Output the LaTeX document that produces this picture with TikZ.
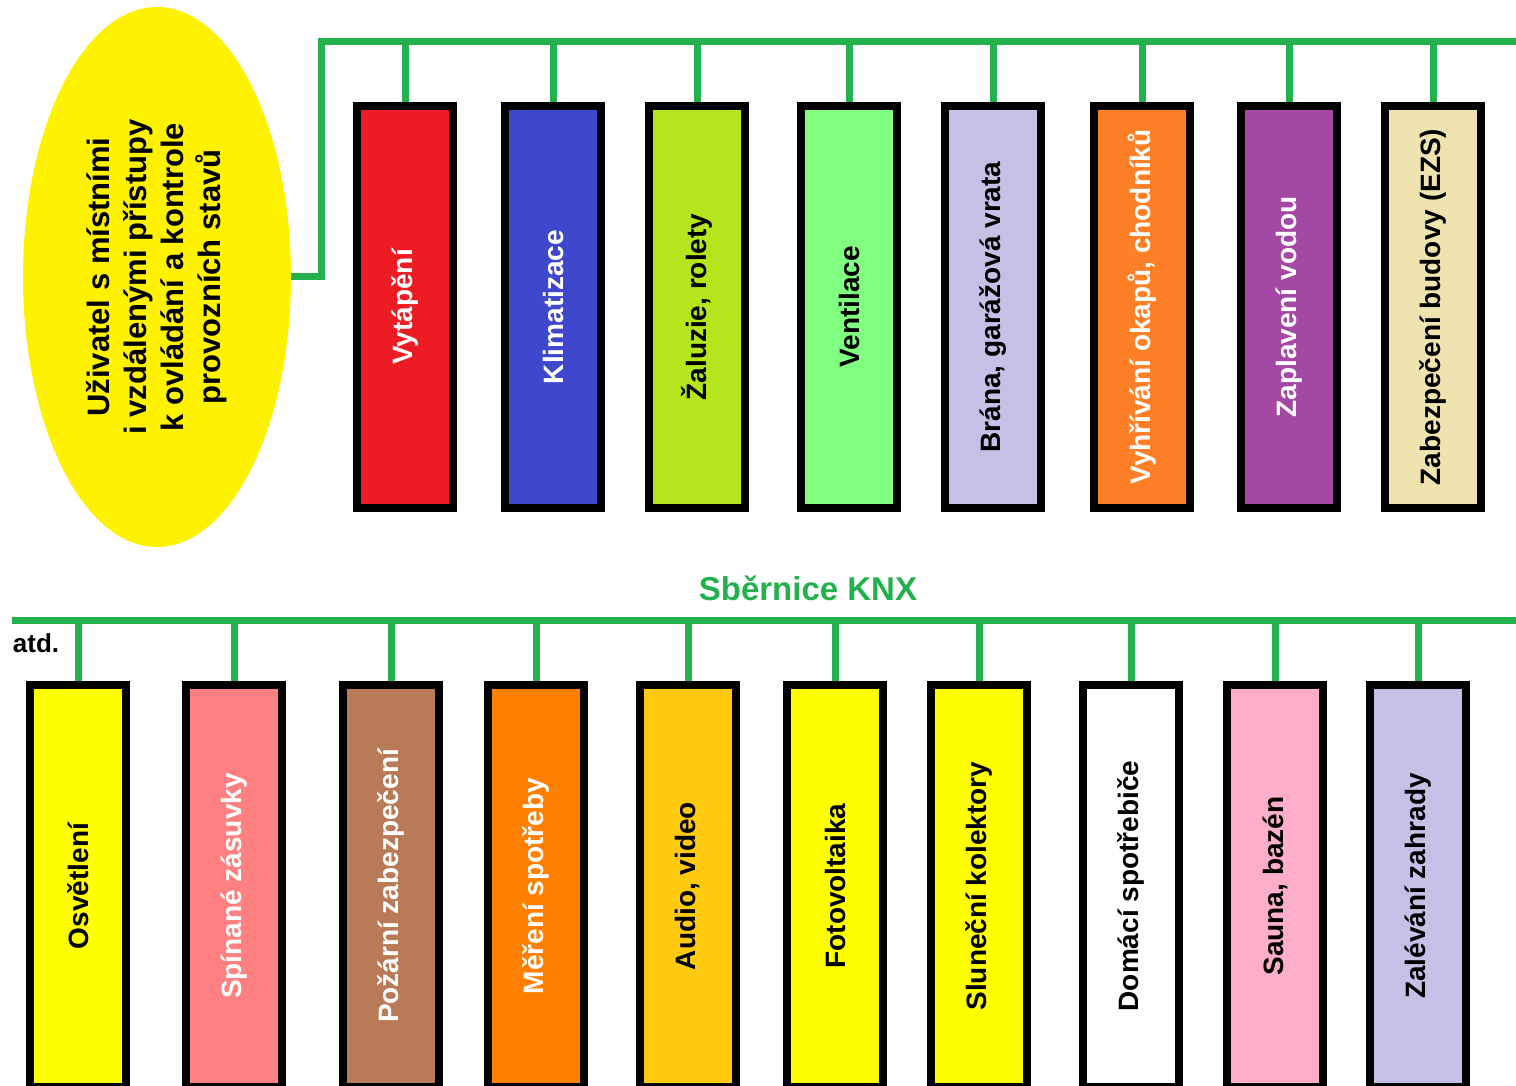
\documentclass[tikz,border=0pt]{standalone}
\usepackage{fontspec}
\setmainfont{Liberation Sans}
\usepackage{xcolor}
\usepackage{tikz}
\usetikzlibrary{shapes.geometric, positioning}

\definecolor{busgreen}{HTML}{22B14C}
\definecolor{userYellow}{HTML}{FFF200}
\definecolor{cRed}{HTML}{ED1C24}
\definecolor{cBlue}{HTML}{3F48CC}
\definecolor{cLime}{HTML}{B5E61D}
\definecolor{cMint}{HTML}{80FF80}
\definecolor{cLavender}{HTML}{C8BFE7}
\definecolor{cOrange}{HTML}{FF7F27}
\definecolor{cPurple}{HTML}{A349A4}
\definecolor{cBeige}{HTML}{EFE4B0}
\definecolor{cYellow}{HTML}{FFFF00}
\definecolor{cSalmon}{HTML}{FF8080}
\definecolor{cBrown}{HTML}{B97A57}
\definecolor{cDarkOrange}{HTML}{FF8000}
\definecolor{cGold}{HTML}{FFC90E}
\definecolor{cPink}{HTML}{FFAEC9}

\begin{document}
\begin{tikzpicture}[x=1pt, y=-1pt, node distance=147pt,
    device/.style={rectangle, draw, line width=8pt, minimum width=96pt, minimum height=402pt, inner sep=0pt, font=\fontsize{28}{33}\selectfont\bfseries},
    bus/.style={draw=busgreen, line width=7pt}]

    \path [use as bounding box, clip] (0,0) rectangle (1516,1086);

    % user (rotated, so .south is the right-hand side)
    \node [ellipse, fill=userYellow, minimum width=540pt, minimum height=268pt, rotate=90, align=center, font=\fontsize{31}{37}\selectfont\bfseries] (uzivatel) at (157,277) {Uživatel s místními\\i vzdálenými přístupy\\k ovládání a kontrole\\provozních stavů};

    % upper row
    \node [device, fill=cRed, text=white] (vytapeni) at (405,307) {\rotatebox{90}{Vytápění}};
    \node [device, fill=cBlue, text=white, right of=vytapeni, xshift=1pt] (klimatizace) {\rotatebox{90}{Klimatizace}};
    \node [device, fill=cLime, right of=klimatizace, xshift=-3pt] (zaluzie) {\rotatebox{90}{Žaluzie, rolety}};
    \node [device, fill=cMint, right of=zaluzie, xshift=5pt] (ventilace) {\rotatebox{90}{Ventilace}};
    \node [device, fill=cLavender, right of=ventilace, xshift=-3pt] (brana) {\rotatebox{90}{Brána, garážová vrata}};
    \node [device, fill=cOrange, text=white, right of=brana, xshift=2pt] (vyhrivani) {\rotatebox{90}{Vyhřívání okapů, chodníků}};
    \node [device, fill=cPurple, text=white, right of=vyhrivani] (zaplaveni) {\rotatebox{90}{Zaplavení vodou}};
    \node [device, fill=cBeige, right of=zaplaveni, xshift=-3pt] (ezs) {\rotatebox{90}{Zabezpečení budovy (EZS)}};

    % lower row
    \node [device, fill=cYellow] (osvetleni) at (78,886) {\rotatebox{90}{Osvětlení}};
    \node [device, fill=cSalmon, text=white, right of=osvetleni, xshift=9pt] (zasuvky) {\rotatebox{90}{Spínané zásuvky}};
    \node [device, fill=cBrown, text=white, right of=zasuvky, xshift=10pt] (pozarni) {\rotatebox{90}{Požární zabezpečení}};
    \node [device, fill=cDarkOrange, text=white, right of=pozarni, xshift=-2pt] (mereni) {\rotatebox{90}{Měření spotřeby}};
    \node [device, fill=cGold, right of=mereni, xshift=5pt] (audio) {\rotatebox{90}{Audio, video}};
    \node [device, fill=cYellow, right of=audio] (fotovoltaika) {\rotatebox{90}{Fotovoltaika}};
    \node [device, fill=cYellow, right of=fotovoltaika, xshift=-3pt] (kolektory) {\rotatebox{90}{Sluneční kolektory}};
    \node [device, fill=white, right of=kolektory, xshift=5pt] (spotrebice) {\rotatebox{90}{Domácí spotřebiče}};
    \node [device, fill=cPink, right of=spotrebice, xshift=-3pt] (sauna) {\rotatebox{90}{Sauna, bazén}};
    \node [device, fill=cLavender, right of=sauna, xshift=-4pt] (zalevani) {\rotatebox{90}{Zalévání zahrady}};

    % bus
    \node [text=busgreen, font=\fontsize{33}{39}\selectfont\bfseries] (knx) at (808,588) {Sběrnice KNX};
    \node [font=\fontsize{26}{31}\selectfont\bfseries] (atd) at (36,643) {atd.};

    \coordinate (topbus) at (321,42);
    \coordinate (topend) at (1520,42);
    \coordinate (bottombus) at (12,620);
    \coordinate (bottomend) at (1520,620);

    \draw [bus] (uzivatel.south) -| (topbus) -- (topend);
    \draw [bus] (bottombus) -- (bottomend);

    \draw [bus] (vytapeni.north) -- (vytapeni.north |- topbus);
    \draw [bus] (klimatizace.north) -- (klimatizace.north |- topbus);
    \draw [bus] (zaluzie.north) -- (zaluzie.north |- topbus);
    \draw [bus] (ventilace.north) -- (ventilace.north |- topbus);
    \draw [bus] (brana.north) -- (brana.north |- topbus);
    \draw [bus] (vyhrivani.north) -- (vyhrivani.north |- topbus);
    \draw [bus] (zaplaveni.north) -- (zaplaveni.north |- topbus);
    \draw [bus] (ezs.north) -- (ezs.north |- topbus);

    \draw [bus] (osvetleni.north) -- (osvetleni.north |- bottombus);
    \draw [bus] (zasuvky.north) -- (zasuvky.north |- bottombus);
    \draw [bus] (pozarni.north) -- (pozarni.north |- bottombus);
    \draw [bus] (mereni.north) -- (mereni.north |- bottombus);
    \draw [bus] (audio.north) -- (audio.north |- bottombus);
    \draw [bus] (fotovoltaika.north) -- (fotovoltaika.north |- bottombus);
    \draw [bus] (kolektory.north) -- (kolektory.north |- bottombus);
    \draw [bus] (spotrebice.north) -- (spotrebice.north |- bottombus);
    \draw [bus] (sauna.north) -- (sauna.north |- bottombus);
    \draw [bus] (zalevani.north) -- (zalevani.north |- bottombus);
\end{tikzpicture}
\end{document}
